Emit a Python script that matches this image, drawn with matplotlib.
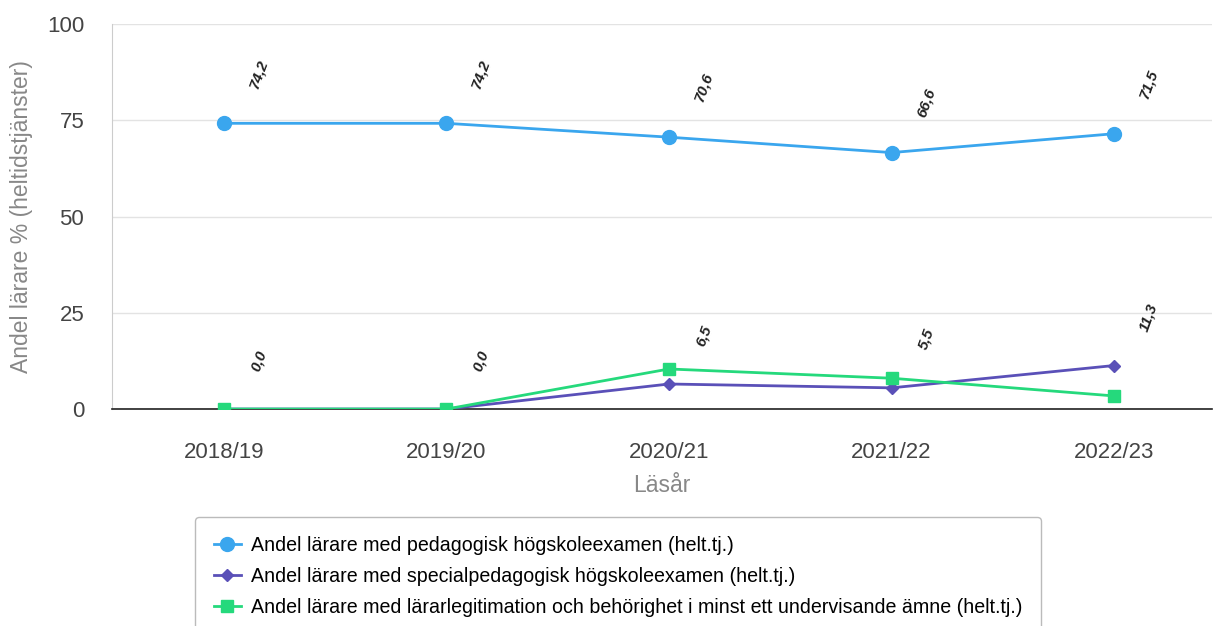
import matplotlib.pyplot as plt

plt.rcParams['font.family'] = ['Liberation Sans', 'DejaVu Sans']

# Data
years = ["2018/19", "2019/20", "2020/21", "2021/22", "2022/23"]
ped_exam = [74.2, 74.2, 70.6, 66.6, 71.5]
spec_exam = [0.0, 0.0, 6.5, 5.5, 11.3]
legit = [0.0, 0.0, 10.4, 8.0, 3.4]
spec_labels = ["0,0", "0,0", "6,5", "5,5", "11,3"]
ped_labels = ["74,2", "74,2", "70,6", "66,6", "71,5"]

series_names = [
    "Andel lärare med pedagogisk högskoleexamen (helt.tj.)",
    "Andel lärare med specialpedagogisk högskoleexamen (helt.tj.)",
    "Andel lärare med lärarlegitimation och behörighet i minst ett undervisande ämne (helt.tj.)",
]

fig = plt.figure(figsize=(12.16, 6.26), dpi=100)
ax = fig.add_axes([0.0921, 0.3466, 0.9046, 0.6151])

x = list(range(len(years)))
ax.plot(x, ped_exam, color='#3aa6ee', lw=2, marker='o', ms=10, label=series_names[0], zorder=3)
ax.plot(x, spec_exam, color='#5a50b8', lw=2, marker='D', ms=6.5, label=series_names[1], zorder=3)
ax.plot(x, legit, color='#25d97c', lw=2, marker='s', ms=9, label=series_names[2], zorder=4)

# data labels
for xi, v, s in zip(x, ped_exam, ped_labels):
    ax.annotate(s, (xi, v), xytext=(25, 36), textcoords='offset points', rotation=70,
                ha='center', va='center', fontsize=11, fontweight='bold', style='italic', color='#222')
for xi, v, s in zip(x, spec_exam, spec_labels):
    ax.annotate(s, (xi, v), xytext=(25, 35), textcoords='offset points', rotation=70,
                ha='center', va='center', fontsize=11, fontweight='bold', style='italic', color='#222')

ax.set_xlim(-0.503, 4.44)
ax.set_ylim(0, 100)
ax.set_yticks([0, 25, 50, 75, 100])
ax.set_xticks(x)
ax.set_xticklabels(years)
ax.tick_params(axis='both', length=0, labelsize=16, colors='#444')
ax.tick_params(axis='x', pad=24)
ax.tick_params(axis='y', pad=20)
ax.grid(axis='y', color='#e3e3e3', lw=1)
ax.set_axisbelow(True)

for side in ['top', 'right']:
    ax.spines[side].set_visible(False)
ax.spines['left'].set_color('#cccccc')
ax.spines['bottom'].set_color('#222')
ax.spines['bottom'].set_linewidth(1.2)

ax.set_xlabel("Läsår", fontsize=16.5, color='#888', labelpad=8)
ax.set_ylabel("Andel lärare % (heltidstjänster)", fontsize=16.5, color='#888', labelpad=10)

leg = fig.legend(loc='upper left', bbox_to_anchor=(195 / 1216, (626 - 517) / 626),
                 borderaxespad=0, fontsize=14.1, frameon=True, fancybox=True, edgecolor='#aaaaaa',
                 handlelength=1.4, handletextpad=0.5, labelspacing=0.62, borderpad=0.95)

fig.savefig('out.png', dpi=100, facecolor='white')
